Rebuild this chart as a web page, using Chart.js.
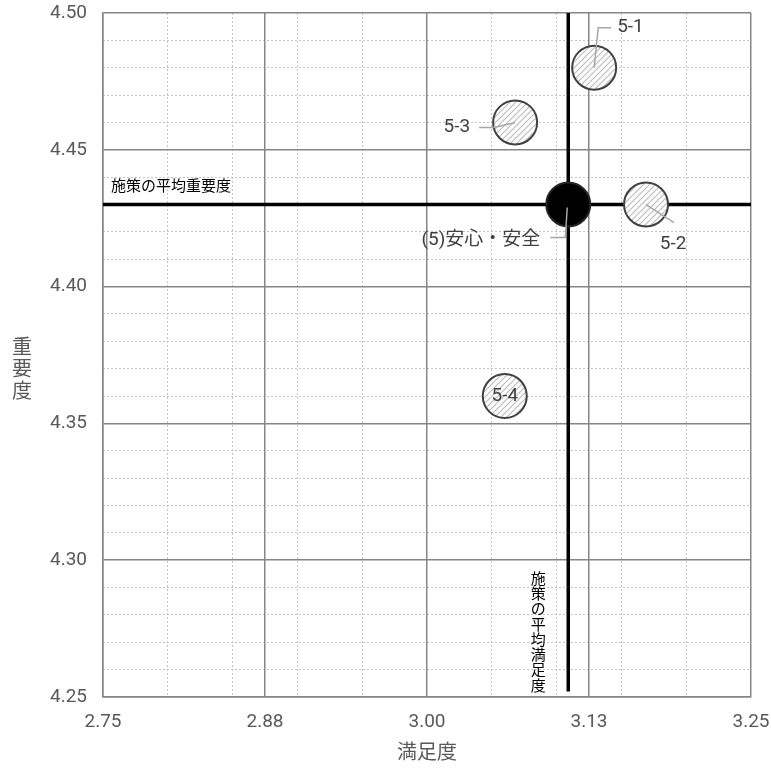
<!DOCTYPE html>
<html lang="ja">
<head>
<meta charset="utf-8">
<script src="https://cdn.jsdelivr.net/npm/chart.js@4.4.1/dist/chart.umd.min.js"></script>
<style>
  html, body { margin: 0; padding: 0; background: #fff; }
  #contenedor { width: 771px; height: 769px; }
</style>
</head>
<body>
<div id="contenedor"><canvas id="graficoBurbujas"></canvas></div>
<script>
// Datos
const etiquetas = ['5-1', '5-2', '5-3', '5-4'];
const satisfaccion = [3.129, 3.169, 3.068, 3.060];
const importancia = [4.48, 4.43, 4.46, 4.36];

const nombreMedio = '(5)安心・安全';
const satisfMedio = [3.109];
const importMedio = [4.43];

// Promedios de los 施策
const promedioSatisf = 3.109;
const promedioImport = 4.43;

// Ejes
const ticksX = [2.75, 2.875, 3.00, 3.125, 3.25];
const etiquetasX = ['2.75', '2.88', '3.00', '3.13', '3.25'];
const ticksY = [4.25, 4.30, 4.35, 4.40, 4.45, 4.50];
const etiquetasY = ['4.25', '4.30', '4.35', '4.40', '4.45', '4.50'];
const menoresX = [2.80, 2.85, 2.90, 2.95, 3.05, 3.10, 3.15, 3.20];
const menoresY = [4.26, 4.27, 4.28, 4.29, 4.31, 4.32, 4.33, 4.34, 4.36, 4.37, 4.38, 4.39,
                  4.41, 4.42, 4.43, 4.44, 4.46, 4.47, 4.48, 4.49];

const fuente = "Roboto, 'Noto Sans CJK JP', sans-serif";
const fuenteJP = "'Noto Sans CJK JP', sans-serif";

// Trama rayada para las burbujas
function crearTrama() {
    const c = document.createElement('canvas');
    c.width = 6; c.height = 6;
    const g = c.getContext('2d');
    g.fillStyle = '#fff';
    g.fillRect(0, 0, 6, 6);
    g.strokeStyle = '#bdbdbd';
    g.lineWidth = 1.2;
    g.beginPath();
    g.moveTo(0, 6); g.lineTo(6, 0);
    g.moveTo(-3, 3); g.lineTo(3, -3);
    g.moveTo(3, 9); g.lineTo(9, 3);
    g.stroke();
    return g.createPattern(c, 'repeat');
}

// Etiquetas con líneas guía (desplazamientos en px desde el centro)
const guias = {
    '5-1': { linea: [[4, -40], [17, -40]], texto: [23, -40], alinear: 'left' },
    '5-2': { linea: [[28, 18]], texto: [27, 40], alinear: 'center' },
    '5-3': { linea: [[-21, 5], [-36, 5]], texto: [-45, 5], alinear: 'right' },
    '5-4': { linea: [], texto: [0, 0], alinear: 'center' }
};

// quitar el relleno que Chart.js reserva para las etiquetas de los extremos
function sinRelleno(s) {
    s.paddingLeft = 0; s.paddingRight = 0;
    s.paddingTop = 0; s.paddingBottom = 0;
}

const pluginEtiquetas = {
    id: 'etiquetas',
    afterDatasetsDraw(chart) {
        const ctx = chart.ctx;
        const area = chart.chartArea;
        const x = chart.scales.x, y = chart.scales.y;
        ctx.save();
        // burbujas de los items
        const meta = chart.getDatasetMeta(0);
        meta.data.forEach((p, i) => {
            const g = guias[etiquetas[i]];
            if (g.linea.length) {
                ctx.strokeStyle = '#a6a6a6';
                ctx.lineWidth = 1.5;
                ctx.beginPath();
                ctx.moveTo(p.x, p.y);
                g.linea.forEach(o => ctx.lineTo(p.x + o[0], p.y + o[1]));
                ctx.stroke();
            }
            ctx.fillStyle = '#404040';
            ctx.font = '19px ' + fuente;
            ctx.textAlign = g.alinear;
            ctx.textBaseline = 'middle';
            ctx.fillText(etiquetas[i], p.x + g.texto[0], p.y + g.texto[1]);
        });
        // burbuja del promedio
        const m = chart.getDatasetMeta(1).data[0];
        ctx.strokeStyle = '#a6a6a6';
        ctx.lineWidth = 1.5;
        ctx.beginPath();
        ctx.moveTo(m.x - 1, m.y + 3);
        ctx.lineTo(m.x - 3, m.y + 33);
        ctx.lineTo(m.x - 18, m.y + 33);
        ctx.stroke();
        ctx.fillStyle = '#404040';
        ctx.font = '19px ' + fuente;
        ctx.textAlign = 'right';
        ctx.fillText(nombreMedio, m.x - 28, m.y + 36);

        // textos de los promedios
        ctx.fillStyle = '#000';
        ctx.font = '15px ' + fuenteJP;
        ctx.textAlign = 'left';
        ctx.fillText('施策の平均重要度', area.left + 8, y.getPixelForValue(promedioImport) - 19);
        const vertical = '施策の平均満足度';
        ctx.textAlign = 'center';
        const px = x.getPixelForValue(promedioSatisf) - 30;
        for (let i = 0; i < vertical.length; i++) {
            const py = area.bottom - 12 - (vertical.length - 1 - i) * 15.3;
            ctx.fillText(vertical[i], px, py);
        }

        // título del eje Y en vertical
        ctx.fillStyle = '#595959';
        ctx.font = '20px ' + fuenteJP;
        const titulo = '重要度';
        for (let i = 0; i < titulo.length; i++) {
            ctx.fillText(titulo[i], 22, 346 + i * 22);
        }
        ctx.restore();
    }
};

function inicializarGrafico() {
    const ctx = document.getElementById('graficoBurbujas').getContext('2d');
    new Chart(ctx, {
        data: {
            datasets: [{
                type: 'bubble',
                data: satisfaccion.map((v, i) => ({ x: v, y: importancia[i], r: 22 })),
                backgroundColor: crearTrama(),
                borderColor: '#404040',
                borderWidth: 2,
                order: 0
            }, {
                type: 'bubble',
                data: satisfMedio.map((v, i) => ({ x: v, y: importMedio[i], r: 22 })),
                backgroundColor: '#000',
                borderColor: '#262626',
                borderWidth: 2,
                order: 0
            }, {
                type: 'scatter',
                showLine: true,
                data: [{ x: 2.75, y: promedioImport }, { x: 3.25, y: promedioImport }],
                borderColor: '#000',
                borderWidth: 3.5,
                pointRadius: 0,
                order: 2
            }, {
                type: 'scatter',
                showLine: true,
                data: [{ x: promedioSatisf, y: 4.252 }, { x: promedioSatisf, y: 4.50 }],
                borderColor: '#000',
                borderWidth: 3.5,
                pointRadius: 0,
                order: 2
            }]
        },
        options: {
            responsive: true,
            maintainAspectRatio: false,
            animation: false,
            events: [],
            layout: { autoPadding: false, padding: { top: 13, right: 20, left: 0, bottom: 0 } },
            plugins: {
                legend: { display: false },
                tooltip: { enabled: false }
            },
            scales: {
                xMenor: {
                    type: 'linear', position: 'bottom', min: 2.75, max: 3.25, z: -1,
                    afterBuildTicks: s => { s.ticks = menoresX.map(v => ({ value: v })); },
                    afterFit: s => { s.height = 0; sinRelleno(s); },
                    grid: { color: '#c4c4c4', lineWidth: 1, drawTicks: false },
                    border: { display: false, dash: [2, 2] },
                    ticks: { display: false }
                },
                yMenor: {
                    type: 'linear', position: 'left', min: 4.25, max: 4.50, z: -1,
                    afterBuildTicks: s => { s.ticks = menoresY.map(v => ({ value: v })); },
                    afterFit: s => { s.width = 0; sinRelleno(s); },
                    grid: { color: '#c4c4c4', lineWidth: 1, drawTicks: false },
                    border: { display: false, dash: [2, 2] },
                    ticks: { display: false }
                },
                x: {
                    type: 'linear', position: 'bottom', min: 2.75, max: 3.25,
                    afterBuildTicks: s => { s.ticks = ticksX.map(v => ({ value: v })); },
                    afterFit: s => { s.height = 72; sinRelleno(s); },
                    grid: { color: '#868686', lineWidth: 1.5, drawTicks: false },
                    border: { color: '#868686', width: 1.5 },
                    ticks: {
                        autoSkip: false, maxRotation: 0, padding: 14, color: '#595959',
                        font: { family: fuente, size: 19 },
                        callback: (v, i) => etiquetasX[i]
                    },
                    title: {
                        display: true, text: '満足度', color: '#595959',
                        font: { family: fuenteJP, size: 20 },
                        padding: { top: 0, bottom: 6 }
                    }
                },
                y: {
                    type: 'linear', position: 'left', min: 4.25, max: 4.50,
                    afterBuildTicks: s => { s.ticks = ticksY.map(v => ({ value: v })); },
                    afterFit: s => { s.width = 103; sinRelleno(s); },
                    grid: { color: '#868686', lineWidth: 1.5, drawTicks: false },
                    border: { color: '#868686', width: 1.5 },
                    ticks: {
                        autoSkip: false, padding: 16, color: '#595959',
                        font: { family: fuente, size: 19 },
                        callback: (v, i) => etiquetasY[i]
                    }
                }
            }
        },
        plugins: [pluginEtiquetas]
    });
}

document.addEventListener('DOMContentLoaded', inicializarGrafico);
</script>
</body>
</html>
